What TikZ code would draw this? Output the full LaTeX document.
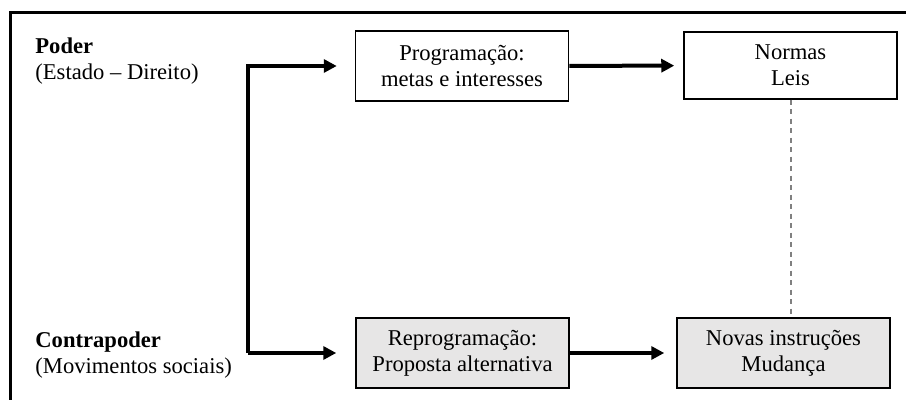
\documentclass[tikz,border=0pt]{standalone}
\usepackage{fontspec}
\setmainfont{Liberation Serif}
\usetikzlibrary{arrows.meta, positioning}

\begin{document}
\begin{tikzpicture} [
    x=0.5pt, y=-0.5pt,
    every node/.style = {font=\fontsize{11.3}{13}\selectfont},
    box/.style = {draw, line width=0.75pt, align=center,
        minimum width=106.5pt, minimum height=35pt, inner sep=0pt},
    newbox/.style = {box, fill=boxgray},
    actor/.style = {anchor=west, align=left, inner sep=0pt},
    flow/.style = {line width=2pt,
        -{Triangle[length=6.5pt, width=6.5pt]}}]
    \definecolor{boxgray}{HTML}{E7E6E6}
    \useasboundingbox (0,0) rectangle (906,400);

    % frame, cut off at the right and bottom
    \begin{scope}
        \clip (0,0) rectangle (906,400);
        \draw [line width=1.5pt] (10,430) -- (10,13) -- (930,13);
    \end{scope}

    \node (poder) [actor] at (35,61)
        {\textbf{Poder}\\(Estado -- Direito)};
    \node (contra) [actor] at (35,355)
        {\textbf{Contrapoder}\\(Movimentos sociais)};

    \node (prog) [box] at (462,66) {Programação:\\metas e interesses};
    \node (normas) [box, minimum height=33.5pt] at (790.5,65.5) {Normas\\Leis};
    \node (reprog) [newbox] at (462.5,353) {Reprogramação:\\Proposta alternativa};
    \node (novas) [newbox] at (783.5,353) {Novas instruções\\Mudança};

    \coordinate (jtop) at (248,66);
    \coordinate (jbot) at (248,353);

    \draw [flow, shorten >=9pt] (jbot) -- (jtop) -- (prog);
    \draw [flow, shorten >=9.5pt] (jbot) -- (reprog);

    \path [flow]
        (prog) edge [shorten >=4.5pt] (normas)
        (reprog) edge [shorten >=6pt] (novas);

    \draw [gray, line width=1pt, dash pattern=on 2.5pt off 2.25pt]
        (normas.south) -- (normas.south |- novas.north);
\end{tikzpicture}
\end{document}
